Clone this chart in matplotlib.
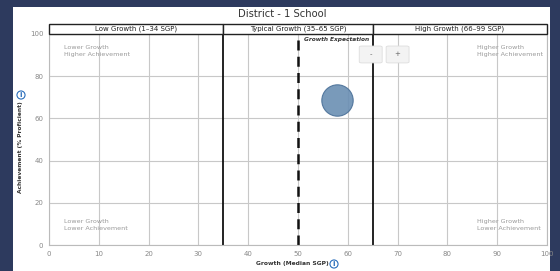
import matplotlib
matplotlib.use("Agg")
import matplotlib.pyplot as plt
from matplotlib.patches import Rectangle, FancyBboxPatch
import matplotlib.transforms as mtransforms

title = "District - 1 School"
bands = ["Low Growth (1–34 SGP)", "Typical Growth (35–65 SGP)", "High Growth (66–99 SGP)"]
band_edges = [0, 35, 65, 100]
growth = [57.8]
achievement = [68.7]
expectation = 50
xticks = [0, 10, 20, 30, 40, 50, 60, 70, 80, 90, 100]
yticks = [0, 20, 40, 60, 80, 100]
quadrants = [
    (3, 95, "Lower Growth\nHigher Achievement"),
    (86, 95, "Higher Growth\nHigher Achievement"),
    (3, 12.5, "Lower Growth\nLower Achievement"),
    (86, 12.5, "Higher Growth\nLower Achievement"),
]

W, H = 560, 271
fig = plt.figure(figsize=(W/100, H/100), dpi=100)
fig.patch.set_facecolor("#2d3a5e")
# white panel
fig.add_artist(Rectangle((13/W, 0), (550-13)/W, 1 - 7/H, transform=fig.transFigure,
                         facecolor="white", edgecolor="none", zorder=-10))

ax = fig.add_axes([49/W, 1-245/H, (547-49)/W, (245-34)/H])
ax.set_zorder(1)
ax.patch.set_alpha(0)
ax.set_xlim(0, 100)
ax.set_ylim(0, 100)
ax.set_xticks(xticks)
ax.set_yticks(yticks)
ax.tick_params(length=0, labelsize=5, labelcolor="#888888", pad=4)
ax.grid(True, color="#c8c8c8", linewidth=0.8)
ax.set_axisbelow(True)
for s in ax.spines.values():
    s.set_color("#bbbbbb")
    s.set_linewidth(0.8)
ax.spines["top"].set_visible(False)

for e in band_edges[1:-1]:
    ax.axvline(e, color="#111111", linewidth=1.3, zorder=2)
ax.axvline(expectation, color="#111111", linewidth=1.8, linestyle=(0, (4, 2.5)), zorder=2)

# header bands
trans = mtransforms.blended_transform_factory(ax.transData, ax.transAxes)
bh = 10/211
for i, lab in enumerate(bands):
    x0, x1 = band_edges[i], band_edges[i+1]
    ax.add_patch(Rectangle((x0, 1), x1 - x0, bh, transform=trans, facecolor="white",
                           edgecolor="#222222", linewidth=1.0, clip_on=False, zorder=3))
    ax.text((x0 + x1)/2, 1 + bh/2, lab, transform=trans, ha="center", va="center",
            fontsize=5, color="#222222", zorder=4)

ax.text(expectation + 1.2, 97.2, "Growth Expectation", fontsize=4.2, style="italic",
        fontweight="bold", color="#333333", ha="left", va="center", zorder=4)

for x, y, t in quadrants:
    ax.text(x, y, t, fontsize=4.6, color="#999999", ha="left", va="top", linespacing=1.5, zorder=4)

# zoom buttons
for bx, lab in [(64.6, "-"), (70.0, "+")]:
    ax.add_patch(FancyBboxPatch((bx - 2.3, 86.3), 4.6, 8, boxstyle="round,pad=0,rounding_size=0.5",
                                facecolor="#f3f3f3", edgecolor="#dddddd", linewidth=0.6, zorder=5))
    ax.text(bx, 90.3, lab, fontsize=5, color="#666666", ha="center", va="center", zorder=6)

ax.scatter(growth, achievement, s=510, color="#6a8fb3", alpha=0.9,
           edgecolors="#4a7098", linewidths=0.8, zorder=6)

info_box = dict(boxstyle="circle,pad=0.15", facecolor="white", edgecolor="#2a6ebb", linewidth=0.8)
fig.text(292/W, 1 - 264/H, "Growth (Median SGP)", fontsize=4.3, fontweight="bold",
         color="#333333", ha="center", va="center")
fig.text(334/W, 1 - 264/H, "i", fontsize=5, fontweight="bold", color="#2a6ebb",
         ha="center", va="center", bbox=info_box)
fig.text(282/W, 1 - 14/H, title, fontsize=7.2, color="#333333", ha="center", va="center")
fig.text(21/W, 1 - 147/H, "Achievement (% Proficient)", fontsize=4.2, fontweight="bold",
         color="#333333", ha="center", va="center", rotation=90)
fig.text(21/W, 1 - 95/H, "i", fontsize=5, fontweight="bold", color="#2a6ebb",
         ha="center", va="center", bbox=info_box)

fig.savefig("out.png", dpi=100, facecolor=fig.get_facecolor())
